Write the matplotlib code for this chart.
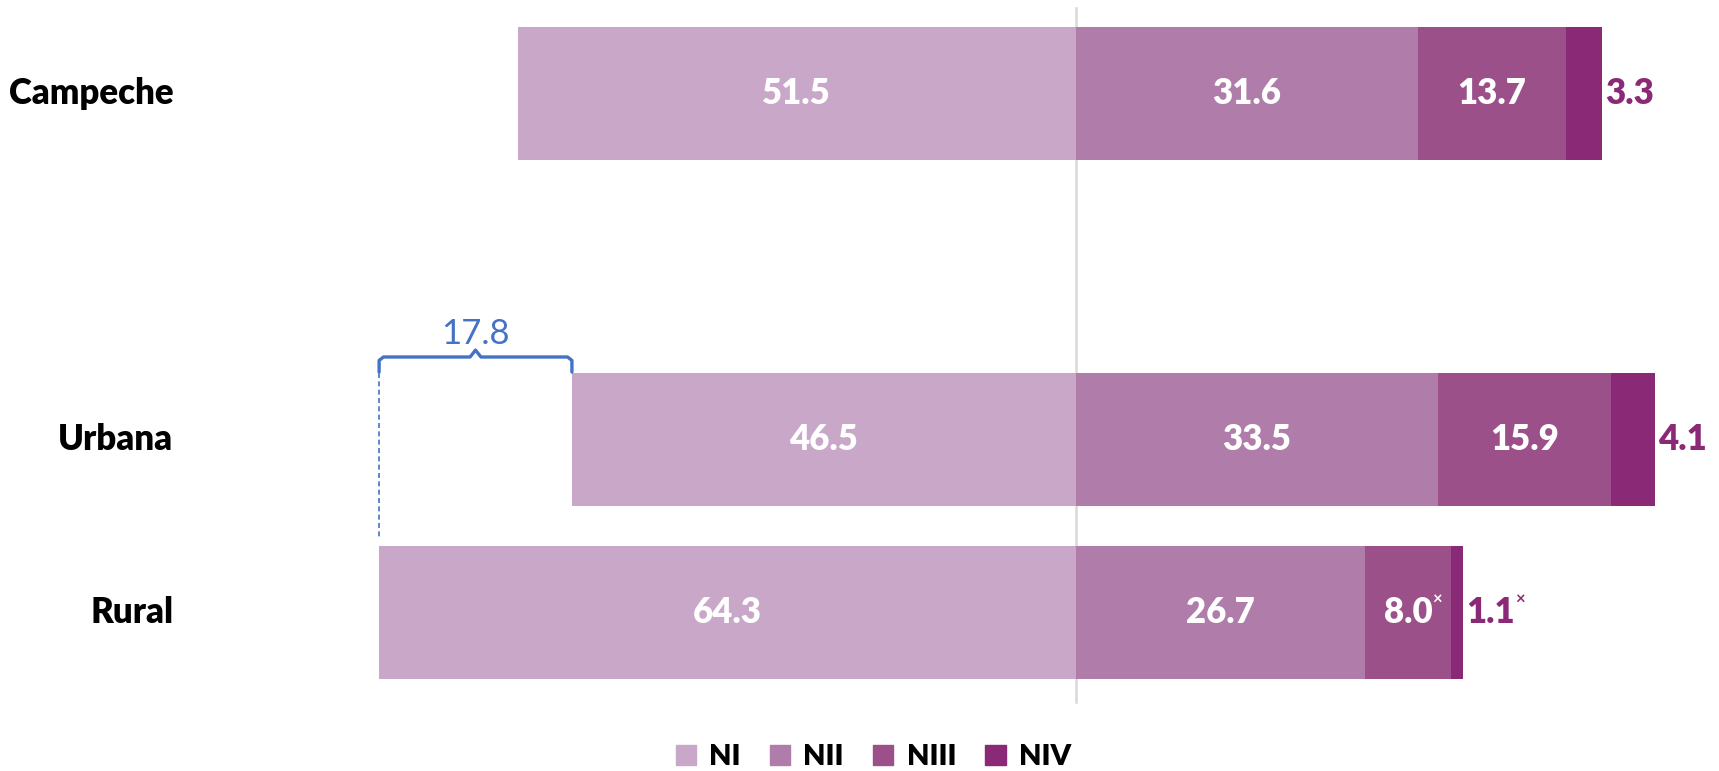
import matplotlib
matplotlib.use("Agg")
from matplotlib import pyplot as plt
from matplotlib.patches import Patch

plt.rcParams['font.family'] = ['Lato', 'DejaVu Sans']

# niveles de logro por ámbito
grupos = ["Campeche", "Urbana", "Rural"]
niveles = ["NI", "NII", "NIII", "NIV"]
ni = [51.5, 46.5, 64.3]
nii = [31.6, 33.5, 26.7]
niii = [13.7, 15.9, 8.0]
niv = [3.3, 4.1, 1.1]
marca = [[False, False, False, False],
         [False, False, False, False],
         [False, False, True, True]]

colores = ["#C9A7C9", "#B07DAA", "#9B5089", "#8A2A76"]
azul = "#4472C4"

ypos = [0, 2, 3]
alto = 0.77
fs = 25

fig = plt.figure(figsize=(17.19, 7.71), dpi=100)
ax = fig.add_axes([0, 0, 1, 1])
ax.set_xlim(-99.3, 59.4)
ax.set_ylim(3.92, -0.544)
ax.axis("off")

# linea del cero
ax.plot([0, 0], [-0.5, 3.52], color="#D9D9D9", lw=1.8, zorder=1)

for i, y in enumerate(ypos):
    # NI hacia la izquierda, el resto hacia la derecha
    ax.barh(y, -ni[i], height=alto, color=colores[0], zorder=2)
    ax.text(-ni[i] / 2, y, f"{ni[i]:.1f}", color="white", fontsize=fs,
            fontweight="heavy", ha="center", va="center", zorder=3)
    izq = 0
    for j, v in enumerate([nii[i], niii[i], niv[i]]):
        ax.barh(y, v, left=izq, height=alto, color=colores[j + 1], zorder=2)
        if j < 2:
            t = ax.text(izq + v / 2, y, f"{v:.1f}", color="white", fontsize=fs,
                        fontweight="heavy", ha="center", va="center", zorder=3)
        else:
            t = ax.text(izq + v + 0.3, y, f"{v:.1f}", color=colores[3], fontsize=fs,
                        fontweight="heavy", ha="left", va="center", zorder=3)
        if marca[i][j + 1]:
            ax.annotate("×", xy=(1, 1), xycoords=t, xytext=(0, -9),
                        textcoords="offset points", color=t.get_color(),
                        fontsize=12, fontweight="bold", ha="left", va="bottom")
        izq += v
    ax.text(-83.3, y, grupos[i], fontsize=fs, fontweight="heavy",
            ha="right", va="center", color="black")

# llave con la brecha entre rural y urbana
x0, x1 = -ni[2], -ni[1]
xm = (x0 + x1) / 2
yb = ypos[1] - alto / 2 - 0.092
ax.plot([x0, x0, x0 + 0.4, xm - 0.5, xm, xm + 0.5, x1 - 0.4, x1, x1],
        [yb + 0.087, yb + 0.02, yb, yb, yb - 0.04, yb, yb, yb + 0.02, yb + 0.087],
        color=azul, lw=2.4, solid_joinstyle="round", solid_capstyle="round",
        zorder=3)
ax.plot([x0, x0], [yb + 0.09, ypos[2] - alto / 2 - 0.04], color=azul,
        lw=1.2, ls=(0, (3, 2)), zorder=3)
ax.text(xm, yb - 0.04, f"{ni[2] - ni[1]:.1f}", color=azul, fontsize=fs,
        ha="center", va="bottom")

handles = [Patch(color=c) for c in colores]
leg = fig.legend(handles, niveles, loc="center", bbox_to_anchor=(0.508, 0.018),
                 ncol=4, frameon=False, handlelength=0.7, handleheight=0.7,
                 handletextpad=0.45, columnspacing=1.0,
                 prop={"size": 21, "weight": "heavy"})

fig.savefig("out.png", dpi=100)
